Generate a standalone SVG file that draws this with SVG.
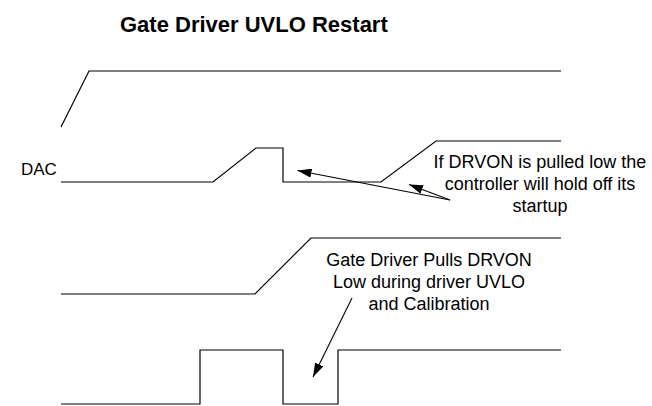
<svg xmlns="http://www.w3.org/2000/svg" width="652" height="406" viewBox="0 0 652 406">
<style>
.w{fill:none;stroke:#000;stroke-width:1.2;stroke-linejoin:miter}
.a{fill:none;stroke:#000;stroke-width:1.1}
.t{font-family:"Liberation Sans",Arial,sans-serif;font-size:18px;fill:#000}
.title{font-family:"Liberation Sans",Arial,sans-serif;font-size:22px;font-weight:bold;fill:#000}
</style>
<defs>
<marker id="ah" viewBox="0 0 14 9" refX="14" refY="4.5" markerWidth="14" markerHeight="9" markerUnits="userSpaceOnUse" orient="auto">
<path d="M0,0 L14,4.5 L0,9 z" fill="#000"/>
</marker>
</defs>
<rect width="652" height="406" fill="#fff"/>
<g id="title"><text class="title" x="120" y="32">Gate Driver UVLO Restart</text></g>
<g id="wave1"><path class="w" d="M61,127 L89,71 L561,71"/></g>
<g id="wave-dac">
<text class="t" x="21" y="175" style="font-size:17px">DAC</text>
<path class="w" d="M61,182 L213,182 L256,148 L283,148 L283,182 L381,182 L436,141 L561,141"/>
</g>
<g id="wave3"><path class="w" d="M61,294 L255,294 L311,238 L561,238"/></g>
<g id="wave4"><path class="w" d="M61,404 L200,404 L200,350 L283,350 L283,404 L338,404 L338,350 L561,350"/></g>
<g id="note1">
<text class="t" text-anchor="middle" x="540" y="168">If DRVON is pulled low the</text>
<text class="t" text-anchor="middle" x="540" y="190">controller will hold off its</text>
<text class="t" text-anchor="middle" x="540" y="212">startup</text>
</g>
<g id="note2">
<text class="t" text-anchor="middle" x="429" y="266">Gate Driver Pulls DRVON</text>
<text class="t" text-anchor="middle" x="429" y="288">Low during driver UVLO</text>
<text class="t" text-anchor="middle" x="429" y="310">and Calibration</text>
</g>
<g id="connectors">
<line class="a" x1="450" y1="200" x2="297.5" y2="170.5" marker-end="url(#ah)"/>
<line class="a" x1="450" y1="200" x2="409" y2="184.5" marker-end="url(#ah)"/>
<line class="a" x1="352" y1="298" x2="313" y2="377" marker-end="url(#ah)"/>
</g>
</svg>
